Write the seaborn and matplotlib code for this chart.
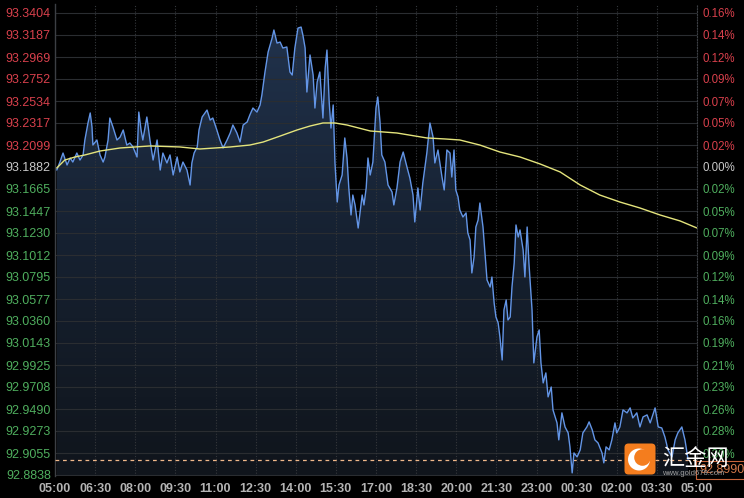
import numpy as np
import pandas as pd
import matplotlib
matplotlib.use("Agg")
import matplotlib.pyplot as plt
import seaborn as sns
from matplotlib.colors import LinearSegmentedColormap
from matplotlib.patches import Polygon, FancyBboxPatch, Circle

# ---------------- data (minutes after 05:00, price) ----------------
minutes = [4, 11, 18, 27, 34, 40, 49, 56, 63, 67, 74, 79, 83, 85, 94, 101, 108, 112, 119, 123,
           130, 139, 146, 153, 161, 168, 175, 184, 188, 193, 197, 206, 213, 220, 229, 236, 242, 251, 258, 265,
           274, 280, 287, 296, 303, 307, 312, 319, 323, 330, 341, 348, 354, 363, 370, 377, 386, 393, 399, 408,
           415, 422, 431, 437, 444, 453, 460, 464, 471, 478, 487, 491, 498, 505, 511, 520, 527, 532, 538, 545,
           552, 556, 561, 565, 572, 579, 583, 588, 594, 601, 606, 610, 615, 619, 624, 628, 633, 637, 644, 650,
           655, 659, 664, 668, 673, 680, 689, 693, 698, 702, 707, 713, 720, 724, 729, 733, 740, 747, 756, 760,
           767, 774, 781, 790, 796, 803, 807, 814, 819, 825, 834, 841, 848, 852, 859, 868, 873, 879, 886, 890,
           895, 899, 904, 908, 915, 922, 926, 931, 935, 940, 944, 949, 953, 960, 964, 969, 976, 980, 985, 989,
           994, 998, 1003, 1007, 1012, 1016, 1021, 1025, 1030, 1034, 1039, 1043, 1050, 1054, 1059, 1063, 1070, 1074, 1081, 1086,
           1090, 1095, 1101, 1106, 1113, 1117, 1126, 1130, 1137, 1144, 1151, 1155, 1160, 1164, 1171, 1178, 1184, 1193, 1198, 1205,
           1211, 1218, 1227, 1231, 1236, 1243, 1249, 1256, 1260, 1267, 1274, 1283, 1290, 1296, 1305, 1312, 1319, 1328, 1335, 1346,
           1353, 1361, 1368, 1375, 1384, 1391, 1397, 1406, 1413, 1420]
prices = [93.1852, 93.1931, 93.2020, 93.1902, 93.1971, 93.1931, 93.2020, 93.1951, 93.2001, 93.2149,
          93.2317, 93.2416, 93.2277, 93.2099, 93.2149, 93.2001, 93.1931, 93.1981, 93.2149, 93.2366,
          93.2277, 93.2149, 93.2178, 93.2248, 93.2099, 93.2119, 93.2080, 93.1981, 93.2425, 93.2248,
          93.2149, 93.2376, 93.2149, 93.1951, 93.2149, 93.1852, 93.2020, 93.1922, 93.2001, 93.1803,
          93.1981, 93.1833, 93.1931, 93.1852, 93.1704, 93.1922, 93.2020, 93.2080, 93.2248, 93.2376,
          93.2445, 93.2346, 93.2366, 93.2248, 93.2149, 93.2070, 93.2149, 93.2218, 93.2297, 93.2218,
          93.2129, 93.2297, 93.2327, 93.2396, 93.2465, 93.2425, 93.2495, 93.2593, 93.2821, 93.3018,
          93.3157, 93.3236, 93.3107, 93.3117, 93.3058, 93.3068, 93.2821, 93.2791, 93.3058, 93.3255,
          93.3265, 93.3186, 93.3058, 93.2623, 93.2989, 93.2791, 93.2465, 93.2722, 93.2821, 93.2366,
          93.2860, 93.3038, 93.2524, 93.2267, 93.2495, 93.1922, 93.1536, 93.1704, 93.1803, 93.2169,
          93.1971, 93.1675, 93.1408, 93.1605, 93.1507, 93.1279, 93.1605, 93.1507, 93.1675, 93.1971,
          93.1803, 93.1931, 93.2465, 93.2574, 93.2327, 93.2001, 93.1931, 93.1704, 93.1635, 93.1507,
          93.1675, 93.1931, 93.2030, 93.1872, 93.1773, 93.1605, 93.1339, 93.1675, 93.1457, 93.1724,
          93.2020, 93.2317, 93.2178, 93.1922, 93.2050, 93.1783, 93.1655, 93.2050, 93.2020, 93.1783,
          93.2050, 93.1655, 93.1586, 93.1457, 93.1388, 93.1428, 93.1230, 93.1161, 93.0835, 93.0993,
          93.1289, 93.1358, 93.1526, 93.1289, 93.1062, 93.0766, 93.0696, 93.0795, 93.0538, 93.0400,
          93.0341, 93.0202, 92.9975, 93.0469, 93.0568, 93.0370, 93.0400, 93.0696, 93.0934, 93.1309,
          93.1190, 93.1260, 93.1062, 93.0795, 93.1289, 93.0934, 93.0469, 92.9946, 93.0202, 93.0272,
          92.9946, 92.9748, 92.9847, 92.9610, 92.9708, 92.9481, 92.9353, 92.9185, 92.9452, 92.9313,
          92.9254, 92.9116, 92.8859, 92.9056, 92.9017, 92.9086, 92.9254, 92.9313, 92.9363, 92.9284,
          92.9185, 92.9155, 92.9056, 92.8958, 92.9116, 92.9086, 92.9185, 92.9353, 92.9254, 92.9313,
          92.9481, 92.9452, 92.9501, 92.9402, 92.9452, 92.9313, 92.9412, 92.9432, 92.9353, 92.9501,
          92.9313, 92.9303, 92.9214, 92.9086, 92.9017, 92.9185, 92.9254, 92.9313, 92.9185, 92.8990]

ma_minutes = [4, 22, 45, 67, 101, 146, 213, 280, 325, 359, 393, 437, 467, 505, 543, 572, 601, 628, 655, 707,
              767, 834, 875, 908, 953, 998, 1043, 1088, 1133, 1178, 1222, 1267, 1312, 1357, 1402, 1440]
ma_prices = [93.1872, 93.1951, 93.1981, 93.2001, 93.2040, 93.2070, 93.2090, 93.2080, 93.2060, 93.2070,
             93.2080, 93.2099, 93.2129, 93.2188, 93.2248, 93.2287, 93.2317, 93.2317, 93.2297, 93.2238,
             93.2218, 93.2169, 93.2159, 93.2149, 93.2099, 93.2030, 93.1981, 93.1912, 93.1833, 93.1704,
             93.1605, 93.1536, 93.1477, 93.1408, 93.1349, 93.1279]

x_tick_labels = ["05:00", "06:30", "08:00", "09:30", "11:00", "12:30", "14:00", "15:30", "17:00",
                 "18:30", "20:00", "21:30", "23:00", "00:30", "02:00", "03:30", "05:00"]
y_tick_labels = ["93.3404", "93.3187", "93.2969", "93.2752", "93.2534", "93.2317", "93.2099", "93.1882",
                 "93.1665", "93.1447", "93.1230", "93.1012", "93.0795", "93.0577", "93.0360", "93.0143",
                 "92.9925", "92.9708", "92.9490", "92.9273", "92.9055", "92.8838"]
pct_labels = ["0.16%", "0.14%", "0.12%", "0.09%", "0.07%", "0.05%", "0.02%", "0.00%",
              "0.02%", "0.05%", "0.07%", "0.09%", "0.12%", "0.14%", "0.16%", "0.19%",
              "0.21%", "0.23%", "0.26%", "0.28%", "0.30%", "0.33%"]
ref_price = 93.1882
last_price = 92.8990
last_label = "92.8990"

# ---------------- style ----------------
sns.set_theme(style="dark")
plt.rcParams['font.family'] = ['Liberation Sans', 'DejaVu Sans']

W, H = 744, 498
fig = plt.figure(figsize=(W / 100, H / 100), dpi=100, facecolor='black')
ax = fig.add_axes([55 / W, 22 / H, 642 / W, 472 / H])
ax.set_facecolor('black')

ytick_vals = [float(s) for s in y_tick_labels]
step = (ytick_vals[0] - ytick_vals[-1]) / (len(ytick_vals) - 1)
ymax = ytick_vals[0] + 9 * step / 22
ymin = ytick_vals[-1] - 1 * step / 22
xmax = 90 * (len(x_tick_labels) - 1)
ax.set_xlim(0, xmax)
ax.set_ylim(ymin, ymax)

# gradient fill under the price line
grad = np.linspace(0, 1, 256).reshape(-1, 1)
cmap = LinearSegmentedColormap.from_list('g', ['#10151c', '#162131', '#22344f'])
img = ax.imshow(grad, extent=[0, xmax, ymin, ymax], origin='lower', aspect='auto',
                cmap=cmap, zorder=1, interpolation='bilinear')
verts = [(minutes[0], ymin)] + list(zip(minutes, prices)) + [(minutes[-1], ymin)]
poly = Polygon(verts, closed=True, facecolor='none', edgecolor='none')
ax.add_patch(poly)
img.set_clip_path(poly)

# grid
for v in ytick_vals:
    ax.axhline(v, color='#2a2d31', lw=0.8, zorder=2)
for i in range(1, len(x_tick_labels)):
    ax.axvline(i * 90, color='#34373b', lw=0.8, ls=(0, (1, 1.5)), zorder=2)

df = pd.DataFrame({'t': minutes, 'p': prices})
ma = pd.DataFrame({'t': ma_minutes, 'p': ma_prices})
sns.lineplot(data=df, x='t', y='p', color='#6395e6', lw=1.0, ax=ax, zorder=4,
             estimator=None, sort=False)
sns.lineplot(data=ma, x='t', y='p', color='#e4e47c', lw=1.0, ax=ax, zorder=5,
             estimator=None, sort=False)

ax.axhline(last_price, color='#f0b88a', lw=0.9, ls=(0, (3, 3)), zorder=3)

ax.set_xlabel('')
ax.set_ylabel('')
ax.grid(False)

def col(v):
    if abs(v - ref_price) < 1e-6:
        return '#c8c8c8'
    return '#d8404c' if v > ref_price else '#4fae5e'

ax.set_yticks(ytick_vals)
ax.set_yticklabels(y_tick_labels, fontsize=9)
for lab, v in zip(ax.get_yticklabels(), ytick_vals):
    lab.set_color(col(v))
ax.set_xticks([i * 90 for i in range(len(x_tick_labels))])
ax.set_xticklabels(x_tick_labels, fontsize=9, fontweight='bold', color='#b4b4b4')
ax.tick_params(axis='both', length=0)
ax.tick_params(axis='y', pad=3)
ax.tick_params(axis='x', pad=5)

ax2 = ax.twinx()
ax2.set_ylim(ymin, ymax)
ax2.set_yticks(ytick_vals)
ax2.set_yticklabels(pct_labels, fontsize=8.3)
for lab, v in zip(ax2.get_yticklabels(), ytick_vals):
    lab.set_color(col(v))
ax2.tick_params(axis='y', length=0, pad=4)
ax2.grid(False)

for a in (ax, ax2):
    for s in a.spines.values():
        s.set_visible(False)
ax.spines['left'].set_visible(True)
ax.spines['left'].set_color('#3c3f44')
ax.spines['left'].set_linewidth(1.0)
ax2.spines['right'].set_visible(True)
ax2.spines['right'].set_color('#3c3f44')
ax2.spines['right'].set_linestyle((0, (1, 1.5)))
ax2.spines['right'].set_linewidth(0.8)

# last-price box on the right
fig.text(699 / W, (H - 470) / H, last_label, fontsize=9, color='#d2784a', va='center', ha='left',
         zorder=10,
         bbox=dict(boxstyle='square,pad=0.25', fc='black', ec='#c8643a', lw=0.8))

# watermark
wm = fig.add_axes([624 / W, 23 / H, 32 / W, 32 / H], zorder=20)
wm.set_xlim(0, 32)
wm.set_ylim(0, 32)
wm.axis('off')
wm.add_patch(FancyBboxPatch((0.5, 0.5), 31, 31, boxstyle='round,pad=0,rounding_size=4',
                            fc='#f47d1e', ec='none'))
wm.add_patch(Circle((15, 15.5), 11, fc='white', ec='none'))
wm.add_patch(Circle((18.5, 17.5), 8.3, fc='#f47d1e', ec='none'))
fig.text(662 / W, (H - 458) / H, '汇金网', fontsize=16, color='white', va='center', ha='left',
         family=['Noto Sans CJK SC', 'DejaVu Sans'], zorder=21)
fig.text(662 / W, (H - 473) / H, 'www.gold678.com', fontsize=5.5, color='#a0a0a0', va='center',
         ha='left', zorder=21)

fig.savefig('out.png', dpi=100, facecolor='black')
